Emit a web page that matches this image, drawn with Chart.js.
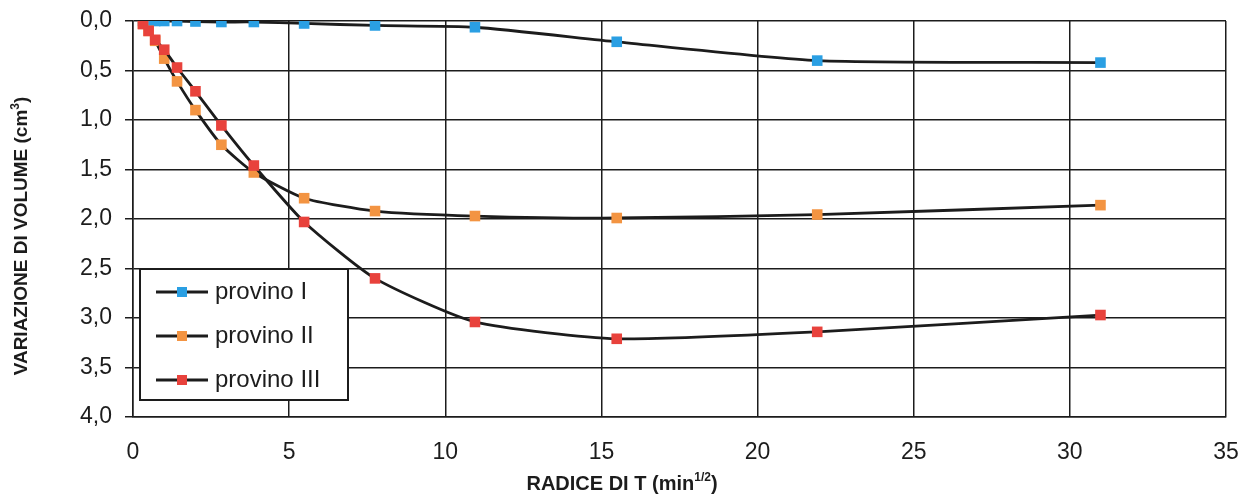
<!DOCTYPE html>
<html>
<head>
<meta charset="utf-8">
<script src="https://cdn.jsdelivr.net/npm/chart.js@4"></script>
<style>
    html, body { margin: 0; padding: 0; background: #fff; }
    #wrap { width: 1250px; height: 498px; position: relative; }
</style>
</head>
<body>
<div id="wrap"><canvas id="volChart" width="1250" height="498"></canvas></div>
<script>
// radice del tempo (min^1/2) e variazioni di volume (cm3)
const radiceT = [0.32, 0.5, 0.71, 1.0, 1.41, 2.0, 2.83, 3.87, 5.48, 7.75, 10.95, 15.49, 21.91, 30.98];
const provinoI = [0.0, 0.0, 0.0, 0.0, 0.0, 0.005, 0.01, 0.01, 0.025, 0.045, 0.063, 0.21, 0.40, 0.42];
const provinoII = [0.03, 0.10, 0.20, 0.38, 0.61, 0.90, 1.25, 1.53, 1.79, 1.92, 1.97, 1.99, 1.955, 1.86];
const provinoIII = [0.03, 0.10, 0.19, 0.29, 0.47, 0.71, 1.055, 1.46, 2.03, 2.60, 3.04, 3.21, 3.14, 2.97];

const seriesNames = ['provino I', 'provino II', 'provino III'];
const seriesColors = ['#2a9fe3', '#f39442', '#e8423c'];

const xTickLabels = ['0', '5', '10', '15', '20', '25', '30', '35'];
const yTickLabels = ['0,0', '0,5', '1,0', '1,5', '2,0', '2,5', '3,0', '3,5', '4,0'];

const xTitle = 'RADICE DI T (min';
const xTitleSup = '1/2';
const yTitle = 'VARIAZIONE DI VOLUME (cm';
const yTitleSup = '3';

const FONT = '"Liberation Sans", Arial, sans-serif';
const INK = '#1c1c1c';

function toPoints(ys) {
    return radiceT.map((x, i) => ({ x: x, y: ys[i] }));
}

function makeDataset(idx, ys, order) {
    return {
        label: seriesNames[idx],
        data: toPoints(ys),
        borderColor: INK,
        borderWidth: 2.8,
        tension: 0.2,
        pointStyle: 'rect',
        pointRadius: 7.5,
        pointBorderWidth: 0,
        pointBackgroundColor: seriesColors[idx],
        pointBorderColor: seriesColors[idx],
        order: order
    };
}

// draws text followed by a small raised part, e.g. cm3 or min1/2
function drawWithSup(c, main, sup, tail, cx, cy, size) {
    c.font = 'bold ' + size + 'px ' + FONT;
    const wMain = c.measureText(main).width;
    const wTail = c.measureText(tail).width;
    c.font = 'bold ' + Math.round(size * 0.62) + 'px ' + FONT;
    const wSup = c.measureText(sup).width;
    let x = cx - (wMain + wSup + wTail) / 2;
    c.textBaseline = 'middle';
    c.textAlign = 'left';
    c.font = 'bold ' + size + 'px ' + FONT;
    c.fillText(main, x, cy);
    x += wMain;
    c.font = 'bold ' + Math.round(size * 0.62) + 'px ' + FONT;
    c.fillText(sup, x, cy - size * 0.32);
    x += wSup;
    c.font = 'bold ' + size + 'px ' + FONT;
    c.fillText(tail, x, cy);
}

const axisTitles = {
    id: 'axisTitles',
    afterDraw(chart) {
        const c = chart.ctx;
        c.save();
        c.fillStyle = INK;
        drawWithSup(c, xTitle, xTitleSup, ')', 622, 484, 20);
        c.translate(22, 236);
        c.rotate(-Math.PI / 2);
        drawWithSup(c, yTitle, yTitleSup, ')', 0, 0, 19);
        c.restore();
    }
};

// legend box sitting inside the plot, lower left
const boxLegend = {
    id: 'boxLegend',
    afterDraw(chart) {
        const c = chart.ctx;
        const area = chart.chartArea;
        const left = area.left + 7;
        const top = area.top + 248;
        const w = 208, h = 131;
        c.save();
        c.fillStyle = '#fff';
        c.fillRect(left, top, w, h);
        c.strokeStyle = INK;
        c.lineWidth = 2;
        c.strokeRect(left, top, w, h);
        seriesNames.forEach((name, i) => {
            const y = top + 23 + i * 44;
            c.strokeStyle = INK;
            c.lineWidth = 2.8;
            c.beginPath();
            c.moveTo(left + 16, y);
            c.lineTo(left + 68, y);
            c.stroke();
            c.fillStyle = seriesColors[i];
            c.fillRect(left + 37, y - 5, 10, 10);
            c.fillStyle = INK;
            c.font = '24px ' + FONT;
            c.textAlign = 'left';
            c.textBaseline = 'middle';
            c.fillText(name, left + 75, y);
        });
        c.restore();
    }
};

const ctx = document.getElementById('volChart').getContext('2d');
new Chart(ctx, {
    type: 'line',
    data: {
        datasets: [
            makeDataset(0, provinoI, 2),
            makeDataset(1, provinoII, 1),
            makeDataset(2, provinoIII, 0)
        ]
    },
    options: {
        responsive: false,
        animation: false,
        layout: { padding: { top: 21, right: 24, left: 0, bottom: 0 } },
        plugins: {
            legend: { display: false },
            tooltip: { enabled: false }
        },
        scales: {
            x: {
                type: 'linear',
                min: 0,
                max: 35,
                afterFit: (scale) => {
                    scale.height = 81;
                    scale.paddingLeft = 0;
                    scale.paddingRight = 0;
                },
                afterBuildTicks: (scale) => {
                    scale.ticks = xTickLabels.map(t => ({ value: Number(t) }));
                },
                ticks: {
                    callback: (v, i) => xTickLabels[i],
                    color: INK,
                    font: { family: FONT, size: 23 },
                    padding: 22,
                    maxRotation: 0
                },
                grid: { color: INK, lineWidth: 1.5, drawTicks: false },
                border: { color: INK, width: 1.5 }
            },
            y: {
                type: 'linear',
                min: 0,
                max: 4,
                reverse: true,
                afterFit: (scale) => {
                    scale.width = 133;
                    scale.paddingTop = 0;
                    scale.paddingBottom = 0;
                },
                afterBuildTicks: (scale) => {
                    scale.ticks = yTickLabels.map(t => ({ value: Number(t.replace(',', '.')) }));
                },
                ticks: {
                    callback: (v, i) => yTickLabels[i],
                    color: INK,
                    font: { family: FONT, size: 23 },
                    padding: 13
                },
                grid: { color: INK, lineWidth: 1.5, tickLength: 8 },
                border: { color: INK, width: 1.5 }
            }
        }
    },
    plugins: [axisTitles, boxLegend]
});
</script>
</body>
</html>
